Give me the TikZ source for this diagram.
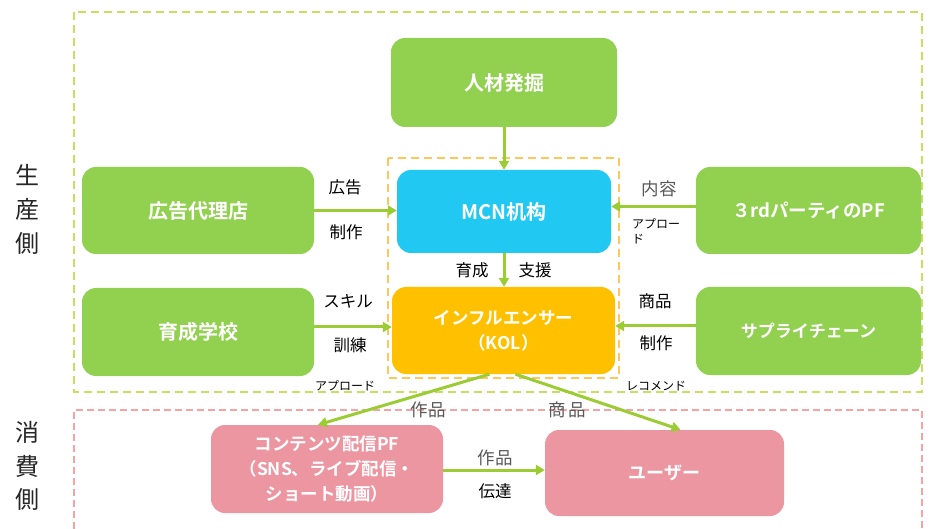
\documentclass[tikz,border=0pt]{standalone}
\usepackage{fontspec}
\setmainfont{Noto Sans CJK JP}[BoldFont={Noto Sans CJK JP Bold}]
\usetikzlibrary{arrows.meta}
\definecolor{gfill}{HTML}{92D050}
\definecolor{garrow}{HTML}{9CCC34}
\definecolor{gdash}{HTML}{C6DE62}
\definecolor{pdash}{HTML}{F7A3A3}
\definecolor{odash}{HTML}{FFC65A}
\definecolor{cfill}{HTML}{21C8F2}
\definecolor{kfill}{HTML}{FFC000}
\definecolor{pfill}{HTML}{EC96A1}
\definecolor{lgray}{HTML}{595959}
\tikzset{
  box/.style={rounded corners=14pt, draw=none, text=white, font=\bfseries\fontsize{17}{24}\selectfont, align=center, inner sep=0pt},
  kbox/.style={font=\bfseries\fontsize{20}{24}\selectfont},
  gbox/.style={box, fill=gfill},
  arr/.style={draw=garrow, line width=3pt, -{Triangle[length=9pt,width=10pt]}},
  lbl/.style={font=\fontsize{16.5}{18}\selectfont, text=black, inner sep=0pt},
  glbl/.style={font=\fontsize{17.5}{19}\selectfont, text=lgray, inner sep=0pt},
  slbl/.style={font=\fontsize{12}{15}\selectfont, text=black, inner sep=0pt, align=left},
  side/.style={font=\fontsize{24}{26}\selectfont, text=black!85, inner sep=0pt},
}
\begin{document}
\begin{tikzpicture}[x=1pt,y=-1pt]
\useasboundingbox (0,0) rectangle (932,529);
% dashed regions
\draw[gdash, line width=1.5pt, dash pattern=on 8pt off 5pt] (74,12) rectangle (922,392);
\draw[pdash, line width=1.3pt, dash pattern=on 7pt off 4pt] (74,529) -- (74,410) -- (922,410) -- (922,529);
\draw[odash, line width=1.5pt, dash pattern=on 8pt off 5pt] (388,158) rectangle (619,378);
% boxes
\node[gbox, kbox, minimum width=226pt, minimum height=89pt] (jinzai) at (504,82.5) {人材発掘};
\node[box, fill=cfill, minimum width=214pt, minimum height=83pt, font=\bfseries\fontsize{20}{24}\selectfont] (mcn) at (504,211.5) {MCN机构};
\node[box, fill=kfill, minimum width=223pt, minimum height=87pt, font=\bfseries\fontsize{17.5}{25}\selectfont] (kol) at (503.5,330.5) {インフルエンサー\\（KOL）};
\node[gbox, kbox, minimum width=232pt, minimum height=87pt] (koukoku) at (198,210.5) {広告代理店};
\node[gbox, kbox, minimum width=232pt, minimum height=88pt] (ikusei) at (198,332) {育成学校};
\node[gbox, minimum width=225pt, minimum height=87pt, font=\bfseries\fontsize{18.5}{24}\selectfont] (third) at (808.5,210.5) {３rdパーティのPF};
\node[gbox, minimum width=225pt, minimum height=88pt] (supply) at (808.5,331) {サプライチェーン};
\node[box, fill=pfill, minimum width=232pt, minimum height=88pt, font=\bfseries\fontsize{17.5}{25}\selectfont] (content) at (327,469) {コンテンツ配信PF\\（SNS、ライブ配信・\\ショート動画）};
\node[box, fill=pfill, minimum width=239pt, minimum height=86pt, font=\bfseries\fontsize{18}{24}\selectfont] (user) at (664.5,473) {ユーザー};
% arrows
\draw[arr] (jinzai.south) -- (mcn.north);
\draw[arr] (koukoku.east) -- (koukoku.east -| mcn.west);
\draw[arr] ([yshift=4pt]third.west) -- ([yshift=4pt]third.west -| mcn.east);
\draw[arr] (mcn.south) -- (mcn.south |- kol.north);
\draw[arr] ([yshift=5pt]ikusei.east) -- ([yshift=5pt]ikusei.east -| kol.west);
\draw[arr] ([yshift=5pt]supply.west) -- ([yshift=5pt]supply.west -| kol.east);
\draw[arr] ([xshift=-14pt]kol.south) -- ([xshift=-9pt]content.north);
\draw[arr] ([xshift=12pt]kol.south) -- ([xshift=16pt]user.north);
\draw[arr] ([yshift=3pt]user.west -| content.east) -- ([yshift=3pt]user.west);
% labels
\node[lbl] (l1) at (345,187) {広告};
\node[lbl] (l2) at (346,232) {制作};
\node[lbl] (l3) at (348,301) {スキル};
\node[lbl] (l4) at (350,345) {訓練};
\node[glbl] (l5) at (659,189) {内容};
\node[slbl, anchor=north west] (l6) at (632,218) {アプロー\\ド};
\node[lbl] (l7) at (655,301) {商品};
\node[lbl] (l8) at (656,343) {制作};
\node[lbl] (l9) at (472,270) {育成};
\node[lbl] (l10) at (535,270) {支援};
\node[slbl] (l11) at (345,386) {アプロード};
\node[slbl] (l12) at (656,386) {レコメンド};
\node[glbl] (l13) at (428,410) {作品};
\node[glbl] (l14) at (567,410) {商\,品};
\node[glbl] (l15) at (495,458) {作品};
\node[lbl] (l16) at (495,491) {伝達};
\node[side] (s1) at (28,175) {生};
\node[side] (s2) at (28,209) {産};
\node[side] (s3) at (28,243) {側};
\node[side] (s4) at (28,432) {消};
\node[side] (s5) at (28,466) {費};
\node[side] (s6) at (28,499) {側};
\end{tikzpicture}
\end{document}
